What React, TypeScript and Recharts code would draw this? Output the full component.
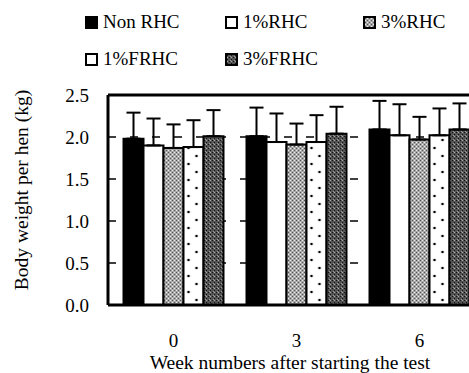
import { BarChart, Bar, XAxis, YAxis, CartesianGrid, ErrorBar, Legend, ReferenceLine } from 'recharts'

const weeks = ['0', '3', '6']

const nonRhc = [1.98, 2.01, 2.09]
const nonRhcSd = [0.31, 0.34, 0.34]
const rhc1 = [1.9, 1.94, 2.02]
const rhc1Sd = [0.32, 0.34, 0.37]
const rhc3 = [1.87, 1.91, 1.97]
const rhc3Sd = [0.28, 0.25, 0.27]
const frhc1 = [1.88, 1.94, 2.02]
const frhc1Sd = [0.32, 0.32, 0.32]
const frhc3 = [2.01, 2.04, 2.09]
const frhc3Sd = [0.31, 0.32, 0.31]

const yTicks = [0, 0.5, 1.0, 1.5, 2.0, 2.5]

const FONT = 'Liberation Serif, DejaVu Serif, serif'

const series = [
  { key: 'non', name: 'Non RHC', values: nonRhc, sd: nonRhcSd, fill: '#000' },
  { key: 'r1', name: '1%RHC', values: rhc1, sd: rhc1Sd, fill: '#fff' },
  { key: 'r3', name: '3%RHC', values: rhc3, sd: rhc3Sd, fill: 'url(#pat3r)' },
  { key: 'f1', name: '1%FRHC', values: frhc1, sd: frhc1Sd, fill: 'url(#pat1f)' },
  { key: 'f3', name: '3%FRHC', values: frhc3, sd: frhc3Sd, fill: 'url(#pat3f)' },
]

const data = weeks.map((w, i) => {
  const row: Record<string, unknown> = { week: w }
  series.forEach((s) => {
    row[s.key] = s.values[i]
    row[s.key + 'Err'] = [0, s.sd[i]]
  })
  return row
})

const legendCols = [85, 225, 363]

function LegendBox() {
  return (
    <div style={{ position: 'relative', width: 469, height: 70, fontFamily: FONT }}>
      {series.map((s, i) => {
        const row = i < 3 ? 0 : 1
        const col = i < 3 ? i : i - 3
        return (
          <div
            key={s.key}
            style={{
              position: 'absolute',
              left: legendCols[col],
              top: row === 0 ? 11 : 48,
              display: 'flex',
              alignItems: 'center',
              fontSize: 19,
              lineHeight: '22px',
              whiteSpace: 'nowrap',
              color: '#000',
            }}
          >
            <svg width={13} height={13} style={{ display: 'block' }}>
              <rect x={1} y={1} width={11} height={11} fill={s.key === 'f1' ? '#fff' : s.fill} stroke="#000" strokeWidth={2} />
            </svg>
            <span style={{ marginLeft: 5 }}>{s.name}</span>
          </div>
        )
      })}
    </div>
  )
}

export default function App() {
  return (
    <div
      style={{
        position: 'absolute',
        left: 0,
        top: 0,
        width: 469,
        height: 373,
        overflow: 'hidden',
        background: '#fff',
        fontFamily: FONT,
      }}
    >
      <BarChart
        width={500}
        height={373}
        data={data}
        margin={{ top: 95, right: 19, bottom: 0, left: 0 }}
        barCategoryGap={11.5}
        barGap={0}
        style={{ fontFamily: FONT }}
      >
        <defs>
          <pattern id="pat3r" width="4" height="4" patternUnits="userSpaceOnUse">
            <rect width="4" height="4" fill="#a8a8a8" />
            <rect x="0" y="0" width="1" height="1" fill="#555" />
            <rect x="2" y="2" width="1" height="1" fill="#555" />
            <rect x="2" y="0" width="1" height="1" fill="#eee" />
            <rect x="0" y="2" width="1" height="1" fill="#eee" />
          </pattern>
          <pattern id="pat3f" width="4" height="4" patternUnits="userSpaceOnUse">
            <rect width="4" height="4" fill="#555" />
            <rect x="0" y="0" width="1" height="1" fill="#111" />
            <rect x="2" y="2" width="1" height="1" fill="#111" />
            <rect x="2" y="0" width="1" height="1" fill="#aaa" />
            <rect x="1" y="3" width="1" height="1" fill="#999" />
          </pattern>
          <pattern id="pat1f" x="183.5" y="0" width="41" height="16" patternUnits="userSpaceOnUse">
            <rect width="41" height="16" fill="#fff" />
            <circle cx="5" cy="4" r="1.3" fill="#000" />
            <circle cx="13" cy="12" r="1.3" fill="#000" />
          </pattern>
        </defs>
        <CartesianGrid
          horizontal
          vertical={false}
          stroke="#000"
          strokeWidth={1.5}
          strokeDasharray="8 14"
        />
        <XAxis
          dataKey="week"
          height={68}
          padding={{ left: 4, right: 0 }}
          axisLine={{ stroke: '#000', strokeWidth: 3 }}
          tickLine={false}
          tickMargin={23}
          tick={{ fill: '#000', fontSize: 19, fontFamily: FONT }}
          label={() => (
            <text
              x={290}
              y={369}
              textAnchor="middle"
              fontSize={19.5}
              fontFamily={FONT}
              fill="#000"
            >
              Week numbers after starting the test
            </text>
          )}
        />
        <YAxis
          width={108}
          domain={[0, 2.5]}
          ticks={yTicks}
          interval={0}
          tickFormatter={(v: number) => v.toFixed(1)}
          axisLine={{ stroke: '#000', strokeWidth: 3 }}
          tickLine={false}
          tickMargin={13}
          tick={{ fill: '#000', fontSize: 19, fontFamily: FONT }}
          label={() => (
            <text
              x={0}
              y={0}
              transform="translate(21,190) rotate(-90)"
              textAnchor="middle"
              dominantBaseline="central"
              fontSize={19.5}
              fontFamily={FONT}
              fill="#000"
            >
              Body weight per hen (kg)
            </text>
          )}
        />
        <ReferenceLine y={2.5} stroke="#000" strokeWidth={3} />
        <Legend
          layout="vertical"
          verticalAlign="middle"
          align="center"
          wrapperStyle={{ top: 0, left: 0, width: 469, height: 70 }}
          content={() => <LegendBox />}
        />
        {series.map((s) => (
          <Bar
            key={s.key}
            dataKey={s.key}
            name={s.name}
            fill={s.fill}
            stroke="#000"
            strokeWidth={2}
            isAnimationActive={false}
          >
            <ErrorBar dataKey={s.key + 'Err'} direction="y" width={7} stroke="#000" strokeWidth={2} />
          </Bar>
        ))}
      </BarChart>
    </div>
  )
}
